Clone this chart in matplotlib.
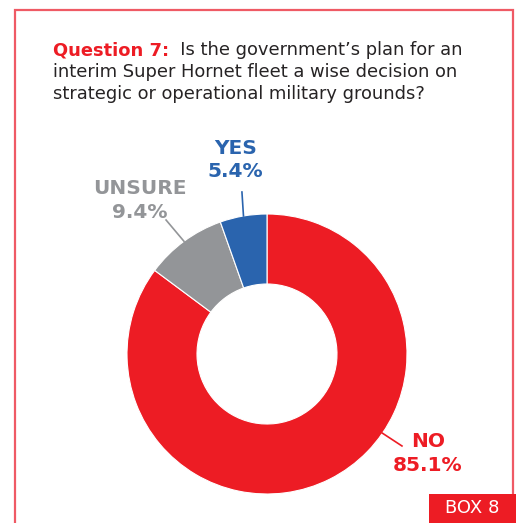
import matplotlib.pyplot as plt
from matplotlib.patches import Rectangle
from matplotlib.text import Annotation

# data
labels = ["NO", "UNSURE", "YES"]
shares = [85.1, 9.4, 5.4]
colors = ["#ED1C24", "#939598", "#2A64AE"]

title_lead = "Question 7:"
title_rest = ["  Is the government\u2019s plan for an",
              "interim Super Hornet fleet a wise decision on",
              "strategic or operational military grounds?"]
box_label = "BOX 8"

W, H = 516, 523
fig = plt.figure(figsize=(W / 100, H / 100), dpi=100)
fig.patch.set_facecolor("white")

# frame
fig.patches.append(Rectangle((15 / W, -0.05), (513 - 15) / W, 1.05 - 10 / H,
                             transform=fig.transFigure, fill=False,
                             edgecolor="#EF5A65", linewidth=1.6))
fig.patches.append(Rectangle((429 / W, 0), 1 - 429 / W, 29 / H,
                             transform=fig.transFigure, facecolor="#ED1C24",
                             edgecolor="none"))
fig.text(472 / W, 15 / H, box_label, color="white", fontsize=13,
         ha="center", va="center")

# title
fs = 12.9
t1 = fig.text(53 / W, 1 - 55 / H, title_lead, color="#ED1C24", fontsize=fs,
              fontweight="bold", va="baseline")
fig.add_artist(Annotation(title_rest[0], xy=(1, 0), xycoords=t1,
                          va="bottom", fontsize=fs, color="#262324"))
for i, line in enumerate(title_rest[1:]):
    fig.text(53 / W, 1 - (77 + 22 * i) / H, line, fontsize=fs,
             color="#262324", va="baseline")

# donut
r = 140
cx, cy = 267, 354
ax = fig.add_axes([(cx - r) / W, (H - cy - r) / H, 2 * r / W, 2 * r / H])
ax.pie(shares, colors=colors, startangle=90, counterclock=False,
       wedgeprops=dict(width=0.5, edgecolor="white", linewidth=0.8))
ax.set_xlim(-1, 1)
ax.set_ylim(-1, 1)
ax.set_aspect("equal")
ax.axis("off")

# labels with leader lines
lines = {"YES": [(-0.168, 0.986), (-0.179, 1.157)],
         "UNSURE": [(-0.593, 0.805), (-0.721, 0.957)],
         "NO": [(0.822, -0.564), (0.964, -0.657)]}
text_pos = {"YES": (-0.225, 1.386), "UNSURE": (-0.907, 1.096), "NO": (1.15, -0.71)}
for lab, val, col in zip(labels, shares, colors):
    (x0, y0), (x1, y1) = lines[lab]
    ax.plot([x0, x1], [y0, y1], color=col, linewidth=1.2, clip_on=False)
    tx, ty = text_pos[lab]
    ax.text(tx, ty, f"{lab}\n{val}%", color=col, fontsize=14.5,
            fontweight="bold", ha="center", va="center", linespacing=1.3)

fig.savefig("out.png", dpi=100)
